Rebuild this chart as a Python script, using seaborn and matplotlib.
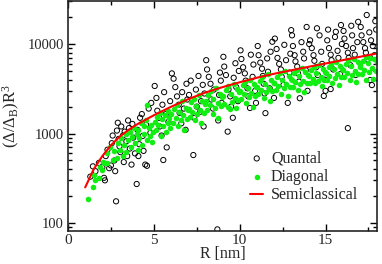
import seaborn as sns
import matplotlib.pyplot as plt
import matplotlib.ticker as mticker
import pandas as pd

# Quantal (open black circles)
quantal_r = [
    1.3, 1.45, 1.6, 1.8, 2.0, 2.1, 2.15, 2.2, 2.3, 2.4, 2.5, 2.55, 2.6, 2.7, 2.75, 2.8,
    2.85, 2.9, 2.95, 3.0, 3.05, 3.1, 3.2, 3.25, 3.3, 3.4, 3.45, 3.5, 3.55, 3.6, 3.7, 3.75,
    3.8, 3.9, 4.0, 4.05, 4.1, 4.15, 4.2, 4.3, 4.35, 4.4, 4.5, 4.55, 4.6, 4.7, 4.8, 4.85,
    5.05, 5.15, 5.2, 5.3, 5.35, 5.45, 5.5, 5.6, 5.7, 5.75, 5.55, 5.85, 5.95,
    6.05, 6.15, 6.25, 6.35, 6.45, 6.5, 6.6, 6.65, 6.75, 6.85, 6.9, 6.95,
    7.05, 7.15, 7.3, 7.35, 7.45, 7.5, 7.6, 7.7, 7.75, 7.85, 7.9, 7.95,
    8.05, 8.1, 8.2, 8.3, 8.35, 8.45, 8.5, 8.7, 8.75, 8.8, 8.85, 8.9, 8.95,
    9.05, 9.1, 9.2, 9.3, 9.35, 9.45, 9.5, 9.6, 9.65, 9.75, 9.8, 9.9, 9.95,
    10.05, 10.1, 10.2, 10.3, 10.35, 10.45, 10.5, 10.6, 10.65, 10.75, 10.8, 10.9, 10.95,
    11.05, 11.1, 11.2, 11.3, 11.35, 11.4, 11.45, 11.5, 11.9, 11.6, 11.65, 11.75, 11.8, 12.0,
    12.05, 12.15, 12.2, 12.3, 12.4, 12.45, 12.55, 12.8, 12.6, 12.7, 13.0, 12.9, 12.95,
    13.05, 13.1, 13.2, 13.25, 13.35, 13.4, 13.45, 13.5, 13.6, 13.7, 13.75, 13.85, 13.9, 13.95,
    14.05, 14.1, 14.2, 14.3, 14.35, 14.45, 14.5, 14.55, 14.65, 14.75, 14.8, 14.9, 14.95, 15.0,
    15.1, 15.15, 15.2, 15.3, 15.3, 15.35, 15.45, 15.55, 15.6, 15.7, 15.75, 15.85, 15.9, 15.95,
    16.05, 16.1, 16.2, 16.3, 16.3, 16.35, 16.45, 16.5, 16.55, 16.6, 16.7, 16.75, 16.85, 16.9,
    17.05, 17.1, 17.2, 17.3, 17.35, 17.4, 17.45, 17.55, 17.6, 17.65, 17.7, 17.75, 17.85, 17.9, 17.95,
]
quantal_v = [
    330, 430, 380, 470, 420, 320, 300, 560, 660, 410, 440, 780, 950, 500, 380, 175,
    1080, 1320, 870, 720, 620, 1200, 950, 480, 1050, 820, 560, 1400, 1150, 680, 450, 1280,
    900, 600, 273, 1100, 560, 760, 1500, 1650, 940, 640, 450, 1250, 436, 1900, 1020, 2200,
    3400, 2500, 1800, 1500, 1200, 950, 2100, 2900, 1650, 700, 506, 1350, 2300,
    4700, 4100, 3300, 2600, 2100, 1700, 1300, 2900, 1900, 1100, 3600, 2400,
    2700, 3900, 575, 1500, 3100, 2000, 4400, 1750, 2300, 3500, 1200, 2800,
    6600, 5200, 4300, 3600, 2400, 1900, 3100, 85, 1400, 2700, 4800, 3900, 2200,
    7200, 5600, 4500, 1050, 3100, 2600, 2000, 1500, 4200, 6100, 3300, 2300, 5000,
    8500, 6800, 5500, 4700, 3900, 3200, 2600, 1930, 7600, 4300, 5900, 3000, 2200,
    9500, 7500, 6200, 5300, 4400, 3600, 2800, 1690, 10600, 6900, 4900, 3200, 8200, 2500,
    11500, 8800, 7000, 6000, 5200, 4300, 3500, 2200, 9800, 6600, 14300, 4800, 7800,
    12500, 9500, 7500, 6400, 5600, 4700, 3800, 2480, 10500, 8200, 6900, 5100, 15500, 3000,
    10000, 11000, 9000, 7500, 6500, 5500, 15000, 4500, 12500, 8200, 6000, 2630, 4000, 3000,
    11000, 14500, 9000, 7600, 3140, 6600, 5200, 12000, 13700, 8400, 7000, 4600, 16300, 10000,
    14000, 11500, 9500, 8000, 1150, 7000, 5800, 16000, 12500, 9000, 7600, 4500, 10500, 17700,
    15500, 12500, 10500, 9000, 8000, 21100, 6800, 13500, 3960, 11000, 3480, 9500, 7500, 18000, 14500,
]

# Diagonal (filled green dots)
diagonal_r = [
    1.16, 1.45, 1.5, 1.6, 1.78, 1.85, 2.0, 2.05, 2.13, 2.28, 2.3, 2.45, 2.6, 2.7, 2.87,
    2.9, 3.0, 3.1, 3.2, 3.25, 3.35, 3.4, 3.5, 3.6, 3.65, 3.75, 3.85, 3.9, 4.0, 4.05,
    4.1, 4.15, 4.25, 4.3, 4.4, 4.45, 4.55, 4.6, 4.62, 4.7, 4.75, 4.85, 4.9, 4.95,
    5.05, 5.1, 5.2, 5.25, 5.35, 5.4, 5.5, 5.55, 5.65, 5.7, 5.8, 5.85, 5.9, 5.95,
    6.02, 6.12, 6.18, 6.28, 6.33, 6.42, 6.48, 6.58, 6.63, 6.72, 6.78, 6.88, 6.92, 6.98,
    7.04, 7.08, 7.17, 7.23, 7.32, 7.38, 7.47, 7.53, 7.62, 7.68, 7.77, 7.83, 7.92, 7.97,
    8.03, 8.11, 8.16, 8.27, 8.31, 8.42, 8.46, 8.57, 8.61, 8.72, 8.76, 8.87, 8.91, 8.99,
    9.02, 9.09, 9.18, 9.3, 9.34, 9.43, 9.49, 9.58, 9.64, 9.73, 9.8, 9.86, 9.93, 9.97,
    10.04, 10.1, 10.17, 10.24, 10.33, 10.38, 10.47, 10.53, 10.62, 10.68, 10.77, 10.83, 10.92, 10.97,
    11.03, 11.08, 11.19, 11.22, 11.31, 11.39, 11.46, 11.54, 11.63, 11.69, 11.78, 11.84, 11.91, 11.98,
    12.02, 12.11, 12.17, 12.26, 12.34, 12.41, 12.48, 12.56, 12.64, 12.71, 12.79, 12.86, 12.93, 12.99,
    13.04, 13.09, 13.18, 13.24, 13.33, 13.37, 13.46, 13.52, 13.61, 13.67, 13.76, 13.82, 13.91, 13.96,
    14.03, 14.12, 14.16, 14.27, 14.3, 14.41, 14.47, 14.56, 14.62, 14.73, 14.77, 14.88, 14.92, 14.98,
    15.02, 15.1, 15.18, 15.23, 15.32, 15.39, 15.47, 15.53, 15.62, 15.68, 15.77, 15.83, 15.92, 15.97,
    16.04, 16.08, 16.17, 16.26, 16.31, 16.42, 16.46, 16.57, 16.63, 16.72, 16.78, 16.87, 16.91, 16.98,
    17.03, 17.11, 17.16, 17.24, 17.34, 17.37, 17.48, 17.52, 17.61, 17.69, 17.76, 17.84, 17.93, 17.97,
]
diagonal_v = [
    185, 255, 343, 300, 316, 420, 391, 480, 464, 600, 464, 700, 505, 640, 530,
    780, 650, 900, 560, 740, 1000, 620, 850, 1050, 700, 920, 1150, 780, 1000, 650,
    1100, 900, 1300, 750, 1200, 1000, 1400, 850, 2080, 1150, 950, 1250, 800, 1050,
    1350, 1100, 1550, 1250, 1700, 950, 1450, 1200, 1600, 1050, 1800, 1300, 1500, 1150,
    1650, 1300, 1900, 1500, 2100, 1200, 1750, 1400, 2300, 1600, 1100, 1950, 1450, 1850,
    1900, 1550, 2250, 1750, 2450, 1400, 2050, 1650, 2700, 1850, 1300, 2300, 1700, 2150,
    2300, 1850, 2700, 2100, 2950, 1650, 2450, 1950, 3200, 2200, 1500, 2750, 2050, 2550,
    2600, 2150, 3100, 2000, 3400, 1900, 2800, 2250, 3600, 2500, 1910, 3150, 2350, 2900,
    2950, 2450, 3500, 2750, 3800, 2200, 3200, 2550, 4000, 2850, 2000, 3600, 2650, 3300,
    3300, 2750, 3900, 3100, 4300, 2500, 3600, 2900, 4600, 3200, 2300, 4000, 3000, 3700,
    3650, 3050, 4300, 3400, 4700, 2800, 4000, 3200, 5000, 3550, 2600, 4450, 3300, 4100,
    4000, 3350, 4700, 3750, 5150, 3100, 4400, 3550, 5400, 3900, 2900, 4850, 3650, 4500,
    4350, 3650, 5100, 4050, 5600, 3640, 4800, 3850, 5850, 4250, 3400, 5300, 3950, 4900,
    4700, 3960, 5500, 4400, 6050, 3700, 5200, 4150, 6300, 4600, 3500, 5750, 4300, 5300,
    5100, 4300, 6000, 4750, 6550, 4000, 5650, 4500, 6850, 5000, 3800, 6250, 4650, 5800,
    5500, 4650, 6500, 5150, 7100, 3960, 6100, 4850, 7000, 5400, 4100, 6750, 5000, 6300,
]

# Semiclassical (red curve)
semi_r = [1.0, 1.5, 2.0, 2.5, 3.0, 3.5, 4.0, 5.0, 6.0, 7.0, 8.0, 9.0, 10.0,
          11.0, 12.0, 13.0, 14.0, 15.0, 16.0, 17.0, 18.0]
semi_v = [250, 400, 560, 740, 920, 1090, 1260, 1600, 1990, 2420, 2870, 3300, 3740,
          4200, 4650, 5080, 5560, 6060, 6600, 7200, 7850]

quantal_df = pd.DataFrame({"R": quantal_r, "val": quantal_v})
diagonal_df = pd.DataFrame({"R": diagonal_r, "val": diagonal_v})
semi_df = pd.DataFrame({"R": semi_r, "val": semi_v})

sns.set_style("ticks")
plt.rcParams['font.family'] = ['Liberation Serif', 'DejaVu Serif']
plt.rcParams['mathtext.fontset'] = 'custom'
plt.rcParams['mathtext.rm'] = 'Liberation Serif'
plt.rcParams['mathtext.default'] = 'regular'

fig, ax = plt.subplots(figsize=(3.82, 2.64), dpi=100)
fig.subplots_adjust(left=0.178, right=0.987, bottom=0.125, top=0.995)

sns.scatterplot(data=quantal_df, x="R", y="val", ax=ax, marker="o", s=14,
                fc="none", ec="black", linewidth=0.7, label="Quantal")
sns.scatterplot(data=diagonal_df, x="R", y="val", ax=ax, marker="o", s=16,
                color="#11ee11", linewidth=0, label="Diagonal")
sns.lineplot(data=semi_df, x="R", y="val", ax=ax, color="red", linewidth=1.5,
             label="Semiclassical")

ax.set_yscale("log")
ax.set_xlim(0, 18)
ax.set_ylim(81.5, 30000)
ax.xaxis.set_major_locator(mticker.MultipleLocator(5))
ax.xaxis.set_minor_locator(mticker.MultipleLocator(2.5))
ax.yaxis.set_major_locator(mticker.FixedLocator([100, 1000, 10000]))
ax.yaxis.set_major_formatter(mticker.FuncFormatter(lambda v, p: f"{int(v)}"))
ax.yaxis.set_minor_locator(mticker.LogLocator(base=10, subs=range(2, 10)))
ax.yaxis.set_minor_formatter(mticker.NullFormatter())
ax.tick_params(which="both", direction="in", top=True, right=True,
               width=1.0, color="black")
ax.tick_params(which="major", length=5)
ax.tick_params(which="minor", length=3)
ax.tick_params(axis="x", which="major", labelsize=11, pad=2.5)
ax.tick_params(axis="y", which="major", labelsize=10.5, pad=3)
for sp in ax.spines.values():
    sp.set_linewidth(1.2)

ax.set_xlabel("R [nm]", fontsize=11.5, labelpad=-1)
ax.set_ylabel("(Δ/Δ$_{B}$)R$^{3}$", fontsize=12, labelpad=4)

ax.legend(loc="upper left", bbox_to_anchor=(0.59, 0.35), frameon=False, fontsize=11.5,
          handlelength=0.8, handletextpad=0.5, labelspacing=0.15, borderpad=0,
          borderaxespad=0)

fig.savefig("out.png", dpi=100)
